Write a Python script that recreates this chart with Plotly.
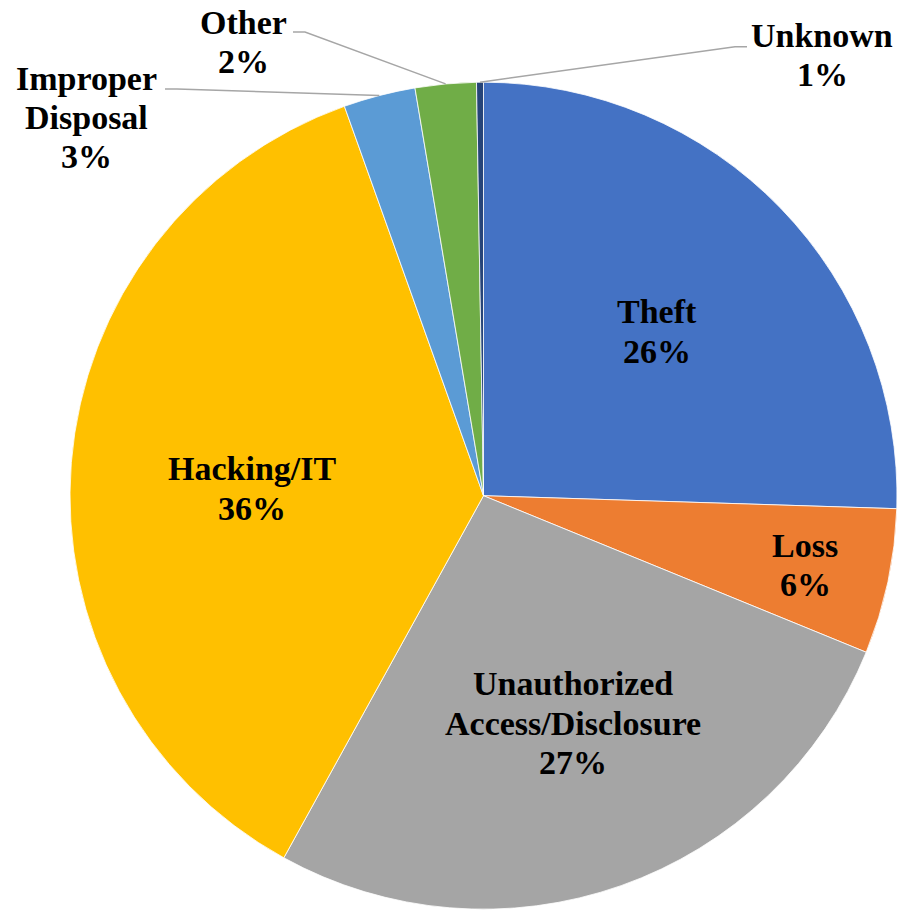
import math
import plotly.graph_objects as go

# ---------------- data ----------------
categories = ["Theft", "Loss", "Unauthorized Access/Disclosure", "Hacking/IT",
              "Improper Disposal", "Other", "Unknown"]
shares = [25.5, 5.68, 26.84, 36.52, 2.81, 2.38, 0.27]
pct_labels = ["26%", "6%", "27%", "36%", "3%", "2%", "1%"]
display_lines = [["Theft"], ["Loss"], ["Unauthorized", "Access/Disclosure"], ["Hacking/IT"],
                 ["Improper", "Disposal"], ["Other"], ["Unknown"]]

# ---------------- style ----------------
colors = ["#4472C4", "#ED7D31", "#A5A5A5", "#FFC000", "#5B9BD5", "#70AD47", "#264478"]
W, H = 897, 913
FONT = "Liberation Serif, Times New Roman, serif"
FSIZE = 34
LINE_GAP = 39.3
# label placement in pixels (centre x, centre y of first line) per slice
label_pos = [(656.7, 311.8), (805, 545.5), (573.3, 683.8), (251.7, 468.8),
             (86.7, 78.1), (243, 22.1), (822, 35.5)]
# leader lines for outside labels: slice index -> label-side points (px)
leaders = {4: [(165, 89), (177, 89)], 5: [(293, 32), (305, 32)], 6: [(747, 46.7), (735, 46.7)]}

# pie geometry in pixels
cx_pg, cy_pg = 483.5, 495.7
R_pg = min(415.2, W - cx_pg, cx_pg, cy_pg, H - cy_pg)


def px(x):
    return x / W


def py(y):
    return 1 - y / H


dom_x = [(cx_pg - R_pg) / W, (cx_pg + R_pg) / W]
dom_y = [1 - (cy_pg + R_pg) / H, 1 - (cy_pg - R_pg) / H]

fig = go.Figure(go.Pie(
    labels=categories,
    values=shares,
    sort=False,
    direction="clockwise",
    rotation=0,
    marker=dict(colors=colors, line=dict(color="white", width=0.8)),
    textinfo="none",
    hoverinfo="label+percent",
    showlegend=False,
    domain=dict(x=dom_x, y=dom_y),
))

annotations = []
for i, lines in enumerate(display_lines):
    x0, y0 = label_pos[i]
    for k, txt in enumerate(lines + [pct_labels[i]]):
        annotations.append(dict(
            x=px(x0), y=py(y0 + k * LINE_GAP), xref="paper", yref="paper",
            text="<b>%s</b>" % txt, showarrow=False, xanchor="center", yanchor="middle",
            font=dict(family=FONT, size=FSIZE, color="black"),
        ))

# leader lines computed from slice mid-angles
total = sum(shares)
cum = 0.0
mids = []
for v in shares:
    mids.append((cum + v / 2) / total * 2 * math.pi)
    cum += v
R_actual = min((dom_x[1] - dom_x[0]) * W, (dom_y[1] - dom_y[0]) * H) / 2
shapes = []
for idx, pts in leaders.items():
    a = mids[idx]
    ex = cx_pg + R_actual * math.sin(a)
    ey = cy_pg - R_actual * math.cos(a)
    allpts = pts + [(ex, ey)]
    path = "M " + " L ".join("%.4f,%.4f" % (px(x), py(y)) for x, y in allpts)
    shapes.append(dict(type="path", path=path, xref="paper", yref="paper",
                       line=dict(color="#A6A6A6", width=1.5)))

fig.update_layout(
    width=W, height=H,
    margin=dict(l=0, r=0, t=0, b=0),
    paper_bgcolor="white", plot_bgcolor="white",
    annotations=annotations, shapes=shapes,
)
fig.write_html("out.html",
               config={"displayModeBar": False},
               post_script="document.body.style.margin='0';document.body.style.overflow='hidden';")
